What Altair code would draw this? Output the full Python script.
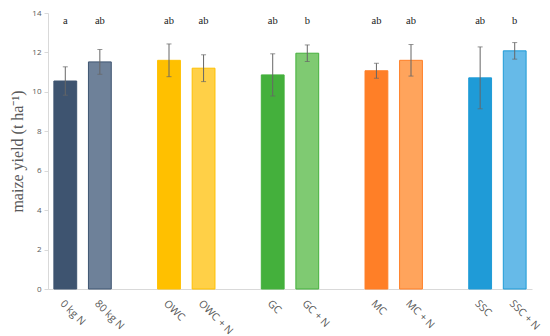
import altair as alt
import pandas as pd

categories = ["0 kg N", "80 kg N", "OWC", "OWC + N", "GC", "GC + N", "MC", "MC + N", "SSC", "SSC + N"]
yields = [10.55, 11.52, 11.60, 11.20, 10.86, 11.96, 11.07, 11.60, 10.71, 12.08]
errors = [0.72, 0.63, 0.83, 0.68, 1.07, 0.42, 0.38, 0.80, 1.57, 0.42]
letters = ["a", "ab", "ab", "ab", "ab", "b", "ab", "ab", "ab", "b"]
fills = ["#3E5470", "#6E8199", "#FFC000", "#FFD047", "#44B03C", "#7FCA72", "#FF7F27", "#FFA45C", "#1F9BD7", "#66BAE8"]
strokes = ["#3E5470", "#3E5470", "#FFC000", "#FFC000", "#44B03C", "#44B03C", "#FF7F27", "#FF7F27", "#1F9BD7", "#1F9BD7"]
y_ticks = [0, 2, 4, 6, 8, 10, 12, 14]

# slot order with blank spacer slots between groups
domain = ["0 kg N", "80 kg N", " ", "OWC", "OWC + N", "  ", "GC", "GC + N", "   ",
          "MC", "MC + N", "    ", "SSC", "SSC + N"]

df = pd.DataFrame({
    "cat": categories,
    "y": yields,
    "lo": [v - e for v, e in zip(yields, errors)],
    "hi": [v + e for v, e in zip(yields, errors)],
    "letter": letters,
    "fill": fills,
    "stroke": strokes,
    "ly": [13.6] * len(categories),
})

xaxis = alt.Axis(title=None, labelAngle=45, labelFont="Open Sans", labelFontSize=10.5,
                 labelColor="#595959", ticks=False, domainColor="#D9D9D9",
                 labelPadding=9, labelOverlap=False)
xs = alt.Scale(domain=domain, paddingInner=0.34, paddingOuter=0.17)
yscale = alt.Scale(domain=[0, 14])
yaxis = alt.Axis(title="maize yield (t ha⁻¹)", values=y_ticks, grid=False, labelOverlap=False,
                 titleFont="Liberation Serif", titleFontSize=16, titleFontWeight="normal",
                 titleColor="#595959", titlePadding=6, labelFont="Open Sans", labelFontSize=8,
                 labelColor="#595959", tickColor="#D9D9D9", tickSize=4, domainColor="#D9D9D9",
                 labelPadding=3)

def X():
    return alt.X("cat:N", scale=xs, sort=domain, axis=xaxis)

def Y(field):
    return alt.Y(field, scale=yscale, axis=yaxis)

base = alt.Chart(df)

bars = base.mark_bar(strokeWidth=1).encode(
    x=X(), y=Y("y:Q"),
    fill=alt.Fill("fill:N", scale=None),
    stroke=alt.Stroke("stroke:N", scale=None),
)
err = base.mark_rule(color="#666666", strokeWidth=1).encode(x=X(), y=Y("lo:Q"), y2="hi:Q")
cap_lo = base.mark_tick(color="#666666", thickness=1, size=5).encode(x=X(), y=Y("lo:Q"))
cap_hi = base.mark_tick(color="#666666", thickness=1, size=5).encode(x=X(), y=Y("hi:Q"))
text = base.mark_text(font="Liberation Serif", fontSize=10.5, color="#1a1a1a").encode(
    x=X(), y=Y("ly:Q"), text="letter:N")

chart = alt.layer(bars, err, cap_lo, cap_hi, text).properties(
    width=484, height=276,
    autosize=alt.AutoSizeParams(type="none"),
    padding={"left": 40, "top": 5, "right": 10, "bottom": 47},
).configure_view(stroke=None)

chart.save("out.html", embed_options={"renderer": "svg", "actions": False})
